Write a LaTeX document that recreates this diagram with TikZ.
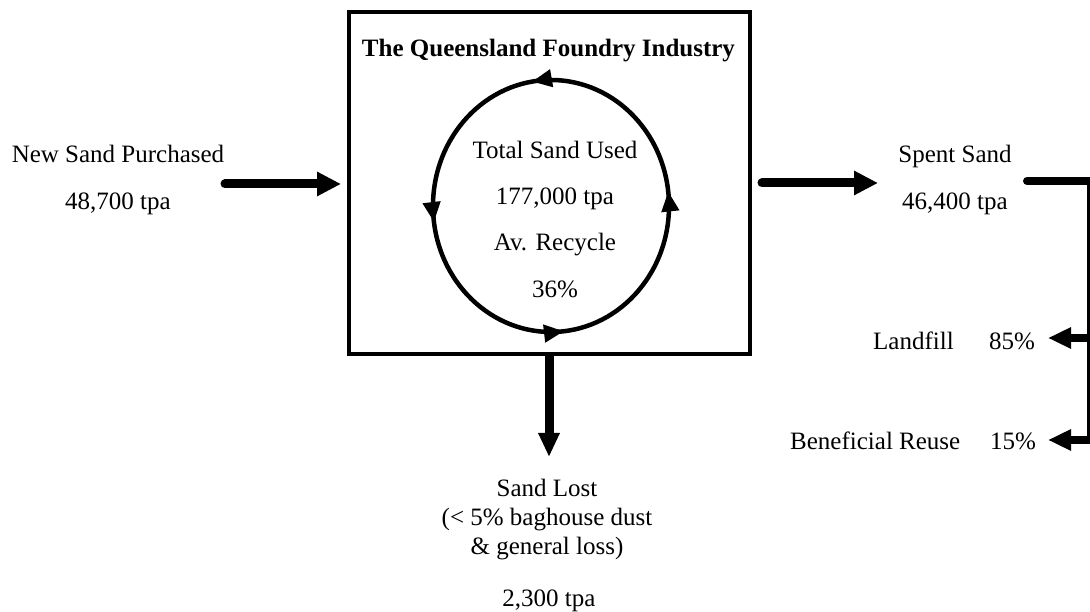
\documentclass[tikz,border=0pt]{standalone}
\usepackage{fontspec}
\setmainfont{Liberation Serif}
\usetikzlibrary{arrows.meta,decorations.markings}
\begin{document}
\begin{tikzpicture}[x=1pt,y=1pt,
  txt/.style={anchor=base, inner sep=0pt, font=\fontsize{25}{30}\selectfont},
  txtw/.style={txt, anchor=base west},
  flow/.style={line width=9pt, line cap=round, -{Triangle[length=24pt,width=23pt]}},
  dflow/.style={line width=9pt, -{Triangle[length=24pt,width=20pt]}},
  rflow/.style={line width=8pt, -{Triangle[length=23pt,width=20pt]}},
  ring/.style={line width=4.5pt, postaction={decorate}, decoration={markings,
     mark=at position 0.019 with {\arrow{Triangle[length=20pt,width=17pt]}},
     mark=at position 0.275 with {\arrow{Triangle[length=20pt,width=17pt]}},
     mark=at position 0.521 with {\arrow{Triangle[length=20pt,width=17pt]}},
     mark=at position 0.767 with {\arrow{Triangle[length=20pt,width=17pt]}}}},
  frame/.style={draw, line width=4.5pt, minimum width=401pt, minimum height=342pt, inner sep=0pt}]
\useasboundingbox (0,0) rectangle (1090,612);
% main box
\node[frame] (box) at (549.5,429) {};
\node[txt, font=\fontsize{25}{30}\selectfont\bfseries] (title) at (548.5,555) {The Queensland Foundry Industry};
% recycle loop
\coordinate (cc) at (551,406);
\draw[ring] (cc) ellipse [x radius=118, y radius=126];
\node[txt] (tsu) at (555,453) {Total Sand Used};
\node[txt] (tsuv) at (555,407) {177,000 tpa};
\node[txt] (avr) at (555,361) {Av. Recycle};
\node[txt] (avrv) at (555,314) {36\%};
% input
\node[txt] (nsp) at (118,449) {New Sand Purchased};
\node[txt] (nspv) at (118,402) {48,700 tpa};
\coordinate (inS) at (225,428);
\coordinate (inE) at (341,428);
\draw[flow] (inS) -- (inE);
% output spent sand
\node[txt] (ss) at (955,449) {Spent Sand};
\node[txt] (ssv) at (955,402) {46,400 tpa};
\coordinate (outS) at (762,429);
\coordinate (outE) at (878,429);
\draw[flow] (outS) -- (outE);
% right bracket
\coordinate (brS) at (1027,431);
\coordinate (brE) at (1092,431);
\coordinate (vT) at (1088.5,435);
\coordinate (vB) at (1088.5,168);
\draw[line width=8pt, line cap=round] (brS) -- (brE);
\draw[line width=3pt] (vT) -- (vB);
\coordinate (lfS) at (1089,274);
\coordinate (lfE) at (1048,274);
\coordinate (brS2) at (1089,172);
\coordinate (brE2) at (1048,172);
\draw[rflow] (lfS) -- (lfE);
\draw[rflow] (brS2) -- (brE2);
\node[txtw] (lf) at (873,262) {Landfill};
\node[txtw] (lfp) at (989,262) {85\%};
\node[txtw] (br) at (790,162) {Beneficial Reuse};
\node[txtw] (brp) at (990,162) {15\%};
% loss
\coordinate (lossS) at (549,256);
\coordinate (lossE) at (549,155);
\draw[dflow] (lossS) -- (lossE);
\node[txt] (sl1) at (547,115) {Sand Lost};
\node[txt] (sl2) at (547,86) {(< 5\% baghouse dust};
\node[txt] (sl3) at (547,57) {\& general loss)};
\node[txt] (slv) at (549,5) {2,300 tpa};
\end{tikzpicture}
\end{document}
